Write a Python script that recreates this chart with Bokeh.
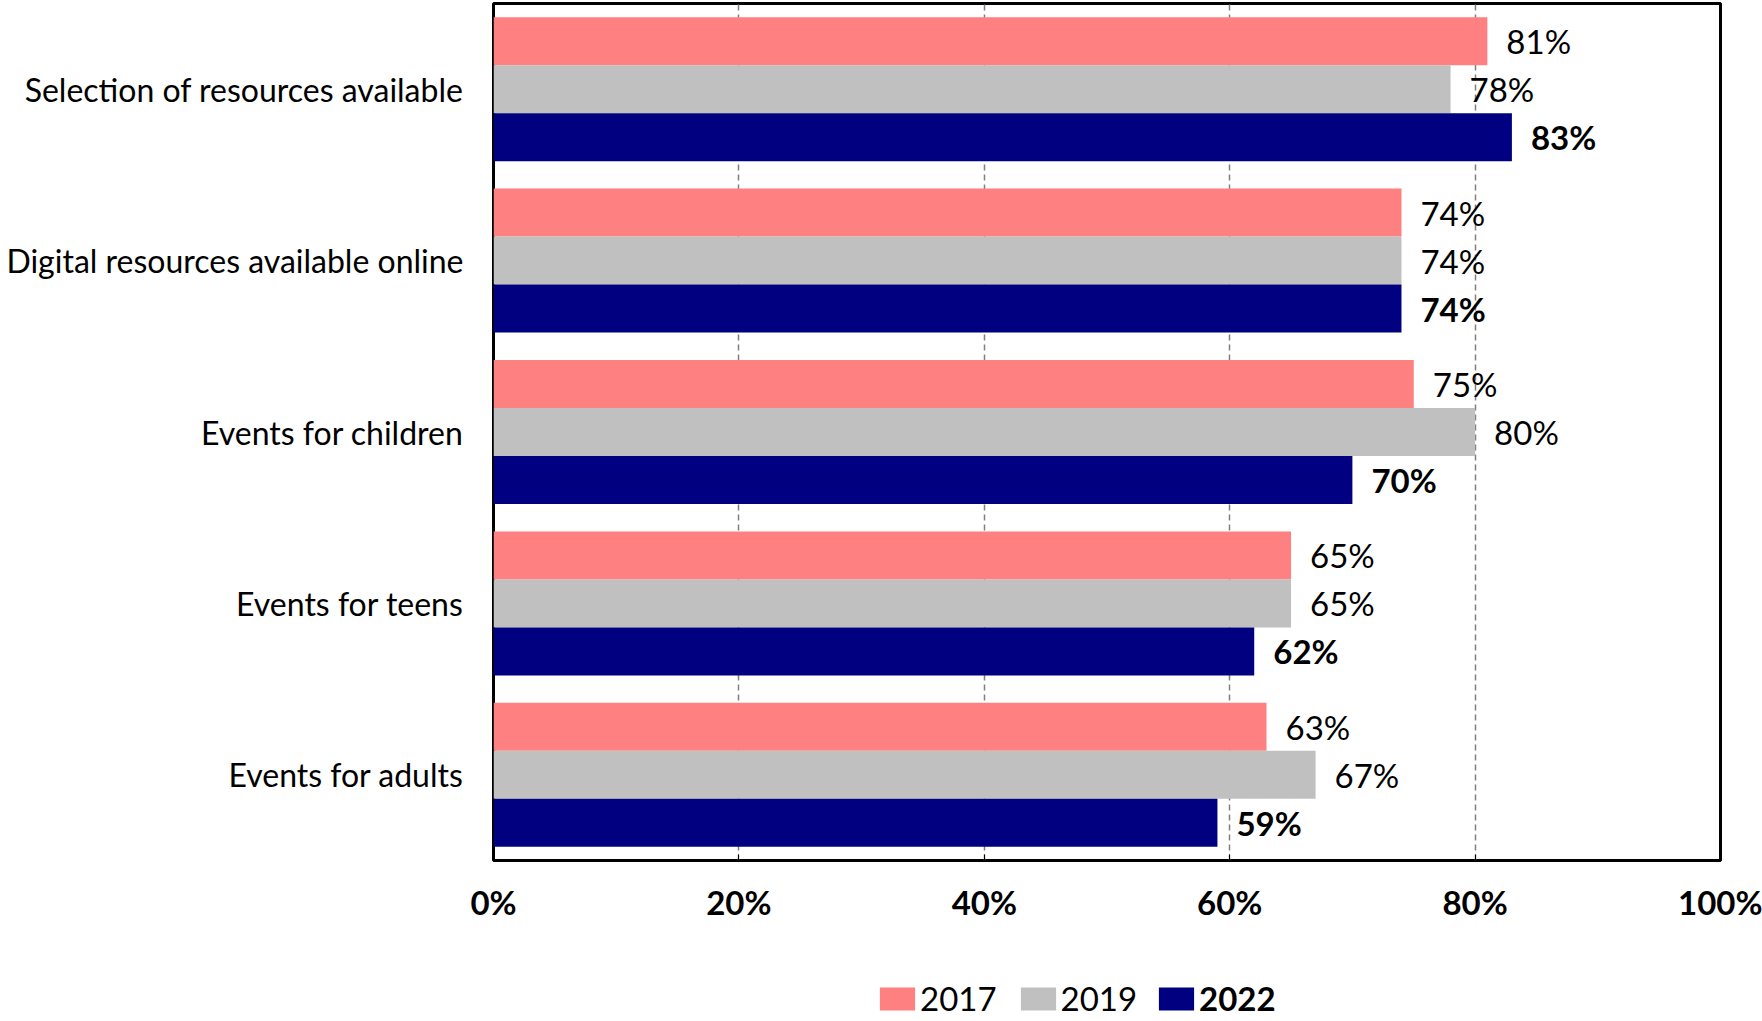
from bokeh.plotting import figure
from bokeh.layouts import column
from bokeh.models import Range1d, FactorRange, FixedTicker, Legend, LegendItem, ColumnDataSource
from bokeh.transform import dodge
from bokeh.core.properties import value
from bokeh.embed import file_html
from bokeh.resources import INLINE

# ---- data ----
categories = ["Selection of resources available", "Digital resources available online",
              "Events for children", "Events for teens", "Events for adults"]
years = ["2017", "2019", "2022"]
v2017 = [81, 74, 75, 65, 63]
v2019 = [78, 74, 80, 65, 67]
v2022 = [83, 74, 70, 62, 59]
tick_values = [0, 20, 40, 60, 80, 100]
tick_labels = ["0%", "20%", "40%", "60%", "80%", "100%"]

colors = ["#FF8080", "#C0C0C0", "#000080"]
offsets = [0.28, 0.0, -0.28]
FONT = "Lato"
W = 1762
BL, BR = 493, 42

p = figure(width=W, height=940, output_backend="svg", toolbar_location=None,
           x_range=Range1d(0, 100), y_range=FactorRange(factors=categories[::-1]),
           min_border_left=BL, min_border_right=BR, min_border_top=3, min_border_bottom=80)

p.outline_line_color = "black"
p.outline_line_width = 3

for yr, vals, col, off in zip(years, [v2017, v2019, v2022], colors, offsets):
    src = ColumnDataSource(dict(cat=categories, val=vals,
                                lab=[f"{v}%" for v in vals]))
    p.hbar(y=dodge("cat", off, range=p.y_range), right="val", left=0, height=0.28,
           fill_color=col, line_color=None, source=src)
    p.text(x="val", y=dodge("cat", off, range=p.y_range), text="lab", source=src,
           x_offset=19, text_baseline="middle", text_align="left",
           text_font=value(FONT), text_font_size=value("33px"), text_color="black",
           text_font_style="bold" if yr == "2022" else "normal")

# x axis
xa = p.xaxis[0]
xa.ticker = FixedTicker(ticks=tick_values)
xa.major_label_overrides = {t: l for t, l in zip(tick_values, tick_labels)}
xa.major_label_text_font = FONT
xa.major_label_text_font_size = "33px"
xa.major_label_text_font_style = "bold"
xa.major_label_text_color = "black"
xa.major_label_standoff = 21
xa.major_tick_in = 6
xa.major_tick_out = 0
xa.major_tick_line_color = "black"
xa.minor_tick_line_color = None
xa.axis_line_color = None

# y axis
ya = p.yaxis[0]
ya.major_label_text_font = FONT
ya.major_label_text_font_size = "32px"
ya.major_label_text_color = "black"
ya.major_label_standoff = 24
ya.major_tick_line_color = None
ya.minor_tick_line_color = None
ya.axis_line_color = None

p.ygrid.grid_line_color = None
p.xgrid.grid_line_color = "#7f7f7f"
p.xgrid.grid_line_dash = "6 4"
p.xgrid.grid_line_width = 1.5

# ---- legend strip ----
q = figure(width=W, height=81, output_backend="svg", toolbar_location=None,
           x_axis_location=None, y_axis_location=None,
           x_range=Range1d(0, 1), y_range=Range1d(0, 1),
           min_border_left=BL, min_border_right=BR, min_border_top=0, min_border_bottom=0)
q.xgrid.grid_line_color = None
q.ygrid.grid_line_color = None
q.outline_line_color = None
# legend-only renderers (zero-width bars, nothing visible in the strip)
dummies = [q.hbar(y=[0.5], right=[0], left=0, height=0.5, fill_color=c, line_color=None)
           for c in colors]

common = dict(orientation="horizontal", border_line_color=None, background_fill_alpha=0,
              padding=0, margin=0, spacing=19, label_standoff=1, glyph_width=44, glyph_height=29,
              label_text_font=FONT, label_text_font_size="33px", label_text_color="black")
leg1 = Legend(items=[LegendItem(label=years[0], renderers=[dummies[0]]),
                     LegendItem(label=years[1], renderers=[dummies[1]])],
              location=(875 - BL, 3), **common)
leg2 = Legend(items=[LegendItem(label=years[2], renderers=[dummies[2]])],
              location=(1154 - BL, 3), label_text_font_style="bold", **common)
q.add_layout(leg1)
q.add_layout(leg2)

layout = column(p, q, spacing=0)
open("out.html", "w").write(file_html(layout, INLINE))
